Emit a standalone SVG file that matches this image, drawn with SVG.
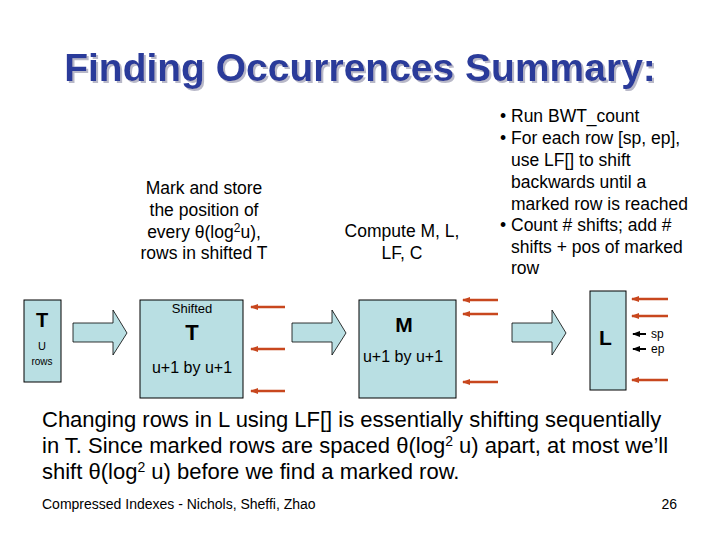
<svg xmlns="http://www.w3.org/2000/svg" width="720" height="540" viewBox="0 0 720 540">
<defs>
<marker id="rh" markerWidth="8" markerHeight="8" refX="1" refY="4" orient="auto" markerUnits="userSpaceOnUse"><path d="M8,1 L0,4 L8,7 z" fill="#c8471e"/></marker>
<marker id="bh" markerWidth="8" markerHeight="8" refX="1" refY="4" orient="auto" markerUnits="userSpaceOnUse"><path d="M8,1 L0,4 L8,7 z" fill="#000"/></marker>
<filter id="sh" x="-5%" y="-20%" width="110%" height="140%"><feDropShadow dx="2" dy="2" stdDeviation="0.5" flood-color="#b8b8c8"/></filter>
</defs>
<style>
text{font-family:"Liberation Sans",Arial,sans-serif;fill:#000}
.box{fill:#b9dfe3;stroke:#000;stroke-width:1}
.fat{fill:#b9dfe3;stroke:#000;stroke-width:0.8}
.r{stroke:#c8471e;stroke-width:2.5;marker-start:url(#rh)}
.b{stroke:#000;stroke-width:2;marker-start:url(#bh)}
</style>
<rect width="720" height="540" fill="#fff"/>
<text x="360" y="81" text-anchor="middle" font-size="39" font-weight="bold" filter="url(#sh)" style="fill:#2a3a9a">Finding Occurrences Summary:</text>
<g font-size="17.5" text-anchor="middle">
<text x="204" y="194">Mark and store</text>
<text x="204" y="216">the position of</text>
<text x="204" y="238">every  θ(log<tspan font-size="12" dy="-6">2</tspan><tspan dy="6">u),</tspan></text>
<text x="204" y="259">rows in shifted T</text>
<text x="402" y="237">Compute M, L,</text>
<text x="402" y="259">LF, C</text>
</g>
<g font-size="17.5">
<text x="500" y="122">• Run BWT_count</text>
<text x="500" y="144">• For each row [sp, ep],</text>
<text x="511" y="166">use LF[] to shift</text>
<text x="511" y="188">backwards until a</text>
<text x="511" y="210">marked row is reached</text>
<text x="500" y="231">• Count # shifts; add #</text>
<text x="511" y="253">shifts + pos of marked</text>
<text x="511" y="274">row</text>
</g>
<g id="nodeT"><rect class="box" x="24" y="300" width="37" height="82"/>
<text x="42" y="327" text-anchor="middle" font-size="20" font-weight="bold">T</text>
<text x="42" y="350" text-anchor="middle" font-size="11">U</text>
<text x="42" y="365" text-anchor="middle" font-size="10">rows</text></g>
<g id="nodeShifted"><rect class="box" x="140" y="300" width="103" height="98"/>
<text x="192" y="313" text-anchor="middle" font-size="13">Shifted</text>
<text x="192" y="340" text-anchor="middle" font-size="22" font-weight="bold">T</text>
<text x="192" y="373" text-anchor="middle" font-size="16">u+1 by u+1</text></g>
<g id="nodeM"><rect class="box" x="359" y="300" width="97" height="98"/>
<text x="404" y="332" text-anchor="middle" font-size="21" font-weight="bold">M</text>
<text x="403" y="362" text-anchor="middle" font-size="16">u+1 by u+1</text></g>
<g id="nodeL"><rect class="box" x="590" y="291" width="36" height="99"/>
<text x="599" y="345" font-size="21" font-weight="bold">L</text></g>
<g id="connectors">
<path class="fat" d="M73,323 H113 V310 L127,333 L113,355 V342 H73 Z"/>
<path class="fat" d="M292,323 H332 V310 L346,333 L332,355 V342 H292 Z"/>
<path class="fat" d="M512,323 H552 V310 L566,333 L552,355 V342 H512 Z"/>
<line class="r" x1="251" y1="307" x2="285" y2="307"/>
<line class="r" x1="251" y1="349" x2="285" y2="349"/>
<line class="r" x1="251" y1="391" x2="285" y2="391"/>
<line class="r" x1="463" y1="300" x2="498" y2="300"/>
<line class="r" x1="463" y1="314" x2="498" y2="314"/>
<line class="r" x1="463" y1="382" x2="498" y2="382"/>
<line class="r" x1="632" y1="299" x2="668" y2="299"/>
<line class="r" x1="632" y1="316" x2="668" y2="316"/>
<line class="r" x1="632" y1="380" x2="668" y2="380"/>
<line class="b" x1="633" y1="334" x2="646" y2="334"/>
<line class="b" x1="633" y1="349" x2="646" y2="349"/>
</g>
<text x="651" y="338" font-size="12">sp</text>
<text x="651" y="353" font-size="12">ep</text>
<g font-size="22">
<text x="42" y="427">Changing rows in L using LF[] is essentially shifting sequentially</text>
<text x="42" y="453">in T. Since marked rows are spaced θ(log<tspan font-size="14" dy="-7">2</tspan><tspan dy="7"> u) apart, at most we’ll</tspan></text>
<text x="42" y="479">shift θ(log<tspan font-size="14" dy="-7">2</tspan><tspan dy="7"> u) before we find a marked row.</tspan></text>
</g>
<text x="42" y="509" font-size="14">Compressed Indexes - Nichols, Sheffi, Zhao</text>
<text x="677" y="509" font-size="14" text-anchor="end">26</text>
</svg>
